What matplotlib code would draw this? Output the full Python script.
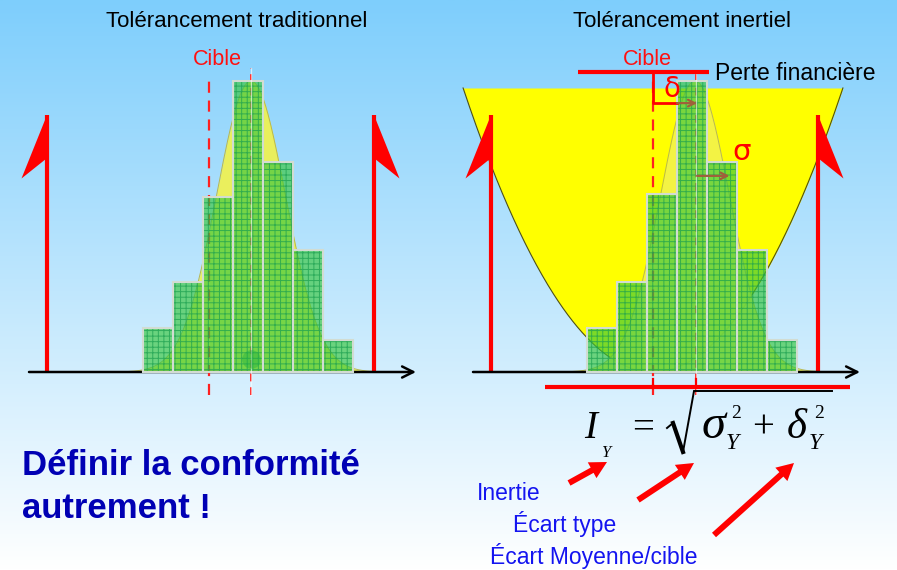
import numpy as np
import matplotlib
matplotlib.use('Agg')
import matplotlib.pyplot as plt
from matplotlib.patches import Polygon, FancyArrow

plt.rcParams['hatch.linewidth'] = 0.7

W, H = 897, 570

# ---------------- data ----------------
bin_centers = np.array([-3, -2, -1, 0, 1, 2, 3])
freq_trad = [15, 31, 60, 100, 72, 42, 11]
freq_inert = [15, 31, 61, 100, 72, 42, 11]
process_mean = 0.1
process_sigma = 1.15
target = -1.3
lsl, usl = -6.7, 4.2
loss_cap = 97.6
loss_halfwidth = 6.33

titles = ['Tolérancement traditionnel', 'Tolérancement inertiel']
target_label = 'Cible'
loss_label = 'Perte financière'
message = 'Définir la conformité\nautrement !'
legend_terms = ['Inertie', 'Écart type', 'Écart Moyenne/cible']

# ---------------- scale (pixels per unit) ----------------
PX_X, PX_Y, BASE = 30.0, 2.91, 372.0

fig = plt.figure(figsize=(W / 100, H / 100), dpi=100)

# background gradient
bg = fig.add_axes([0, 0, 1, 1])
top = np.array([126, 206, 252]) / 255
bot = np.array([255, 255, 255]) / 255
t = np.linspace(0, 1, 300)[:, None]
grad = (top[None, :] * (1 - t) + bot[None, :] * t)[:, None, :]
bg.imshow(grad, extent=[0, W, H, 0], aspect='auto')
bg.set_xlim(0, W); bg.set_ylim(H, 0); bg.axis('off')


def panel(x0, x1, origin):
    ax = fig.add_axes([x0 / W, 1 - 400 / H, (x1 - x0) / W, 400 / H])
    ax.set_xlim((x0 - origin) / PX_X, (x1 - origin) / PX_X)
    ax.set_ylim((BASE - 400) / PX_Y, BASE / PX_Y)
    ax.axis('off')
    ax.patch.set_alpha(0)
    return ax


def draw_hist(ax, freq):
    xs = np.linspace(-4.7, 4.9, 300)
    pdf = max(freq) * np.exp(-(xs - process_mean) ** 2 / (2 * process_sigma ** 2))
    ax.fill_between(xs, 0, pdf, color='#f2f24c', alpha=0.9, lw=0, zorder=2)
    ax.plot(xs, pdf, color='#b8b850', lw=0.7, zorder=2)
    ax.bar(bin_centers, freq, width=1.0, color=(0.22, 0.78, 0.24), alpha=0.66,
           lw=0, zorder=4)
    ax.bar(bin_centers, freq, width=1.0, facecolor='none', edgecolor='#1ca050',
           hatch='+++', lw=0, alpha=0.75, zorder=5)
    ax.bar(bin_centers, freq, width=1.0, facecolor='none', edgecolor='#d2dcd2',
           lw=1.5, zorder=6)


def draw_flags(ax):
    for pos, side in ((lsl, -1), (usl, 1)):
        ax.plot([pos, pos], [0, 88.3], color='red', lw=3, zorder=3,
                solid_capstyle='butt')
        ax.add_patch(Polygon([(pos, 88.3), (pos + side * 0.85, 66.5), (pos, 73.5)],
                             closed=True, color='red', lw=0, zorder=3))


def draw_axis(ax):
    ax.annotate('', xy=(5.6, 0), xytext=(-7.3, 0),
                arrowprops=dict(arrowstyle='->', lw=1.8, color='black',
                                mutation_scale=20, shrinkA=0, shrinkB=0),
                zorder=3)


# ---------------- left panel ----------------
axL = panel(0, 448, 248)
draw_hist(axL, freq_trad)
draw_flags(axL)
draw_axis(axL)
axL.plot([target, target], [-7.9, 102], color='#ff2020', lw=1.6, dashes=(5, 3.5), zorder=3)
axL.plot([process_mean, process_mean], [-7.9, 104.5], color='#ff2020', lw=1.4,
         dashes=(4, 3), zorder=3)
axL.plot([process_mean, process_mean], [-7.9, 104.5], color='white', lw=0.9,
         alpha=0.6, zorder=7)
axL.scatter([process_mean], [4.5], s=180, color='#20b040', alpha=0.45, lw=0, zorder=7)

# ---------------- right panel ----------------
axR = panel(448, 897, 692)
xp = np.linspace(target - loss_halfwidth, target + loss_halfwidth, 400)
loss = loss_cap * ((xp - target) / loss_halfwidth) ** 2
axR.fill_between(xp, loss, loss_cap, color='#ffff00', lw=0, zorder=1)
axR.plot(xp, loss, color='#505010', lw=0.8, zorder=1)
draw_hist(axR, freq_inert)
draw_flags(axR)
draw_axis(axR)
axR.plot([target, target], [-7.9, 103], color='#ff2020', lw=1.6, dashes=(5, 3.5), zorder=3)
axR.plot([process_mean + 0.03] * 2, [-7.9, 103], color='#ff2020', lw=1.4,
         dashes=(4, 3), zorder=3)
axR.plot([process_mean + 0.03] * 2, [-7.9, 103], color='white', lw=0.9,
         alpha=0.6, zorder=7)
# target bar and delta marker
axR.plot([-3.8, 0.57], [103.1, 103.1], color='red', lw=3, zorder=8, solid_capstyle='butt')
axR.plot([target, target, -0.5], [103.1, 92.4, 92.4], color='red', lw=2, zorder=8)
axR.annotate('', xy=(process_mean + 0.07, 92.4), xytext=(-0.5, 92.4),
             arrowprops=dict(arrowstyle='->', lw=1.6, color='#a0603a',
                             mutation_scale=12, shrinkA=0, shrinkB=0), zorder=8)
axR.annotate('', xy=(process_mean + process_sigma, 67.4), xytext=(process_mean + 0.07, 67.4),
             arrowprops=dict(arrowstyle='->', lw=1.6, color='#a0603a',
                             mutation_scale=12, shrinkA=0, shrinkB=0), zorder=8)
# bottom red line with ticks
axR.plot([-4.9, 5.27], [-5.15, -5.15], color='red', lw=3, zorder=8, solid_capstyle='butt')
for xv in (target, process_mean + 0.03):
    axR.plot([xv, xv], [-2.4, -5.15], color='red', lw=1.6, zorder=8)

# ---------------- overlay texts ----------------
ov = fig.add_axes([0, 0, 1, 1], zorder=10)
ov.set_xlim(0, W); ov.set_ylim(H, 0); ov.axis('off'); ov.patch.set_alpha(0)
sans = 'Liberation Sans'
serif = 'Liberation Serif'

ov.text(237, 27, titles[0], ha='center', va='baseline', fontsize=16, family=sans)
ov.text(682, 27, titles[1], ha='center', va='baseline', fontsize=16, family=sans)
ov.text(217, 65, target_label, ha='center', va='baseline', fontsize=15.5, color='#ff1010', family=sans)
ov.text(647, 65, target_label, ha='center', va='baseline', fontsize=15.5, color='#ff1010', family=sans)
ov.text(715, 73, loss_label, ha='left', va='center', fontsize=16.5, family=sans)
ov.text(672, 89, 'δ', ha='center', va='center', fontsize=20, color='red', family='DejaVu Sans')
ov.text(742, 152, 'σ', ha='center', va='center', fontsize=21, color='red', family='DejaVu Sans')

ov.text(22, 475, message.split('\n')[0], ha='left', va='baseline', fontsize=25,
        fontweight='bold', color='#0000b4', family=sans)
ov.text(22, 518, message.split('\n')[1], ha='left', va='baseline', fontsize=25,
        fontweight='bold', color='#0000b4', family=sans)

blue = '#1414f0'
ov.text(477, 500, legend_terms[0], ha='left', va='baseline', fontsize=16.5, color=blue, family=sans)
ov.text(513, 532, legend_terms[1], ha='left', va='baseline', fontsize=16.5, color=blue, family=sans)
ov.text(490, 564, legend_terms[2], ha='left', va='baseline', fontsize=16.5, color=blue, family=sans)

# formula I_Y = sqrt(sigma_Y^2 + delta_Y^2)
ov.text(591, 438, 'I', ha='center', va='baseline', fontsize=28, style='italic', family=serif)
ov.text(606, 457, 'Y', ha='center', va='baseline', fontsize=12, style='italic', family=serif)
ov.text(643, 438, '=', ha='center', va='baseline', fontsize=28, family=serif)
ov.plot([667, 673, 683, 694, 832], [428, 423, 452, 391, 391], color='black', lw=1.4,
        solid_joinstyle='miter')
ov.plot([673, 683], [423, 452], color='black', lw=3)
ov.text(714, 438, 'σ', ha='center', va='baseline', fontsize=35, style='italic', family=serif)
ov.text(736, 418, '2', ha='center', va='baseline', fontsize=14, family=serif)
ov.text(732, 449, 'Y', ha='center', va='baseline', fontsize=17, style='italic', family=serif)
ov.text(763, 438, '+', ha='center', va='baseline', fontsize=28, family=serif)
ov.text(797, 438, 'δ', ha='center', va='baseline', fontsize=31, style='italic', family=serif)
ov.text(819, 418, '2', ha='center', va='baseline', fontsize=14, family=serif)
ov.text(815, 449, 'Y', ha='center', va='baseline', fontsize=17, style='italic', family=serif)

for (x0, y0, x1, y1) in [(569, 483, 607, 462), (638, 500, 694, 463), (714, 535, 794, 463)]:
    ov.add_patch(FancyArrow(x0, y0, x1 - x0, y1 - y0, width=6, head_width=18,
                            head_length=17, length_includes_head=True,
                            color='red', lw=0))

fig.savefig('out.png', dpi=100)
